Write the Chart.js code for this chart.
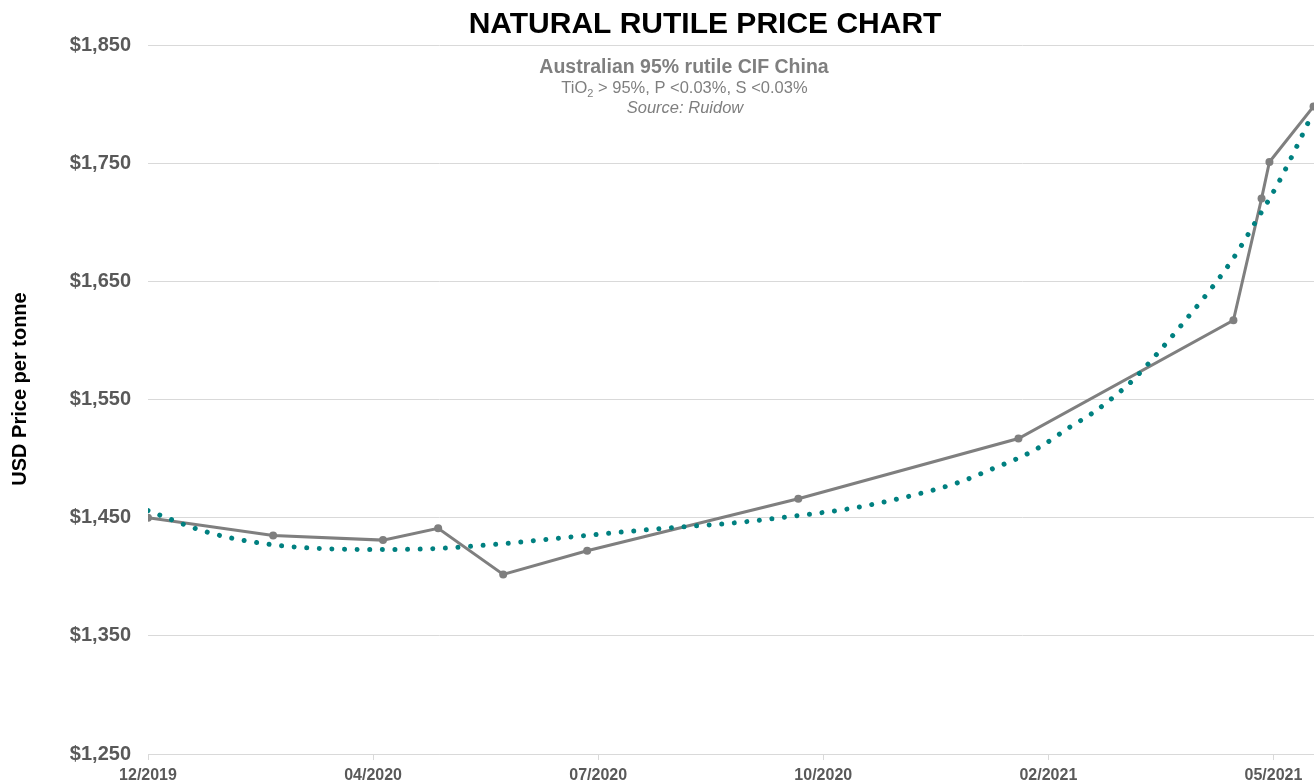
<!DOCTYPE html>
<html>
<head>
<meta charset="utf-8">
<title>Natural rutile price chart</title>
<script src="https://cdn.jsdelivr.net/npm/chart.js@4.4.1/dist/chart.umd.min.js"></script>
<style>
    html, body { margin: 0; padding: 0; background: #fff; }
    #wrap { position: relative; width: 1314px; height: 784px; }
</style>
</head>
<body>
<div id="wrap"><canvas id="chartRutilo"></canvas></div>
<script>
// Etiquetas del eje X (una por intervalo)
const tickLabels = ['12/2019', '04/2020', '07/2020', '10/2020', '02/2021', '05/2021'];

// Precio USD/t; la posicion X va en intervalos de etiqueta (0 = 12/2019)
const priceX = [0, 0.556, 1.044, 1.289, 1.578, 1.951, 2.889, 3.867, 4.822, 4.947, 4.982, 5.178];
const priceY = [1450, 1435, 1431, 1441, 1402, 1422, 1466, 1517, 1617, 1720, 1751, 1798];

// Linea de tendencia (punteada)
const trendX = [0, 0.258, 0.556, 1.044, 1.289, 1.578, 1.947, 2.293, 2.627, 2.853, 3.129, 3.4, 3.604,
    3.76, 3.862, 3.964, 4.098, 4.2, 4.289, 4.373, 4.6, 4.809, 4.929, 5.018, 5.098, 5.173];
const trendY = [1456, 1438, 1427, 1423, 1424, 1428, 1435, 1441, 1446, 1451, 1458, 1469, 1480,
    1492, 1500, 1510, 1527, 1539, 1552, 1566, 1615, 1666, 1703, 1732, 1762, 1792];

const yMin = 1250;
const yMax = 1850;
const yStep = 100;
const xMax = 5.18;

const titulo = 'NATURAL RUTILE PRICE CHART';
const subtitulo = 'Australian 95% rutile CIF China';
const detalle = ' > 95%, P <0.03%, S <0.03%';
const fuente = 'Source: Ruidow';
const tituloY = 'USD Price per tonne';

const FONT = '"Liberation Sans", Arial, sans-serif';

// Titulo y textos dentro del grafico
const textosPlugin = {
    id: 'textos',
    afterDraw(chart) {
        const ctx = chart.ctx;
        ctx.save();
        ctx.textBaseline = 'alphabetic';

        ctx.textAlign = 'center';
        ctx.fillStyle = '#000000';
        ctx.font = 'bold 30px ' + FONT;
        ctx.fillText(titulo, 705, 33);

        ctx.fillStyle = '#7f7f7f';
        ctx.font = 'bold 19.5px ' + FONT;
        ctx.fillText(subtitulo, 684, 73);

        // TiO2 con subindice
        ctx.textAlign = 'left';
        ctx.font = '16.5px ' + FONT;
        const wTi = ctx.measureText('TiO').width;
        const wRest = ctx.measureText(detalle).width;
        ctx.font = '11px ' + FONT;
        const wSub = ctx.measureText('2').width;
        let x = 684.5 - (wTi + wSub + wRest) / 2;
        ctx.font = '16.5px ' + FONT;
        ctx.fillText('TiO', x, 93);
        x += wTi;
        ctx.font = '11px ' + FONT;
        ctx.fillText('2', x, 97);
        x += wSub;
        ctx.font = '16.5px ' + FONT;
        ctx.fillText(detalle, x, 93);

        ctx.textAlign = 'center';
        ctx.font = 'italic 16.5px ' + FONT;
        ctx.fillText(fuente, 685, 113);

        // titulo del eje Y
        ctx.fillStyle = '#000000';
        ctx.font = 'bold 20px ' + FONT;
        ctx.translate(20, 389);
        ctx.rotate(-Math.PI / 2);
        ctx.textBaseline = 'middle';
        ctx.fillText(tituloY, 0, 0);
        ctx.restore();
    }
};

const ctxRutilo = document.getElementById('chartRutilo');
new Chart(ctxRutilo, {
    type: 'line',
    data: {
        datasets: [{
            label: 'Trend',
            data: trendX.map((x, i) => ({ x: x, y: trendY[i] })),
            borderColor: '#008080',
            borderWidth: 5,
            borderDash: [0.01, 12.6],
            borderCapStyle: 'round',
            pointRadius: 0,
            tension: 0.4,
            cubicInterpolationMode: 'monotone',
            fill: false,
            order: 0
        }, {
            label: 'Price',
            data: priceX.map((x, i) => ({ x: x, y: priceY[i] })),
            borderColor: '#7f7f7f',
            borderWidth: 3,
            pointRadius: 4,
            pointBackgroundColor: '#7f7f7f',
            pointBorderColor: '#7f7f7f',
            pointBorderWidth: 0,
            tension: 0,
            fill: false,
            order: 1
        }]
    },
    options: {
        responsive: true,
        maintainAspectRatio: false,
        animation: false,
        layout: {
            autoPadding: false,
            padding: { top: 45, left: 0, right: 0, bottom: 0 }
        },
        plugins: {
            legend: { display: false },
            tooltip: { enabled: false },
            title: { display: false }
        },
        scales: {
            x: {
                type: 'linear',
                min: 0,
                max: xMax,
                afterBuildTicks: function (scale) {
                    scale.ticks = tickLabels.map((_, i) => ({ value: i }));
                },
                afterFit: function (scale) {
                    scale.height = 30;
                    scale.paddingLeft = 0;
                    scale.paddingRight = 0;
                },
                grid: {
                    drawOnChartArea: false,
                    drawTicks: true,
                    tickLength: 6,
                    color: '#d9d9d9'
                },
                border: { display: true, color: '#d9d9d9', width: 1 },
                ticks: {
                    autoSkip: false,
                    maxRotation: 0,
                    padding: 6,
                    color: '#595959',
                    font: { family: FONT, size: 16, weight: 'bold' },
                    callback: function (value) {
                        return tickLabels[value] || '';
                    }
                }
            },
            y: {
                min: yMin,
                max: yMax,
                afterFit: function (scale) { scale.width = 148; },
                grid: { color: '#d9d9d9', lineWidth: 1, drawTicks: false },
                border: { display: false },
                ticks: {
                    stepSize: yStep,
                    padding: 17,
                    color: '#595959',
                    font: { family: FONT, size: 20, weight: 'bold' },
                    callback: function (value) {
                        return '$' + value.toLocaleString('en-US');
                    }
                }
            }
        }
    },
    plugins: [textosPlugin]
});
</script>
</body>
</html>
